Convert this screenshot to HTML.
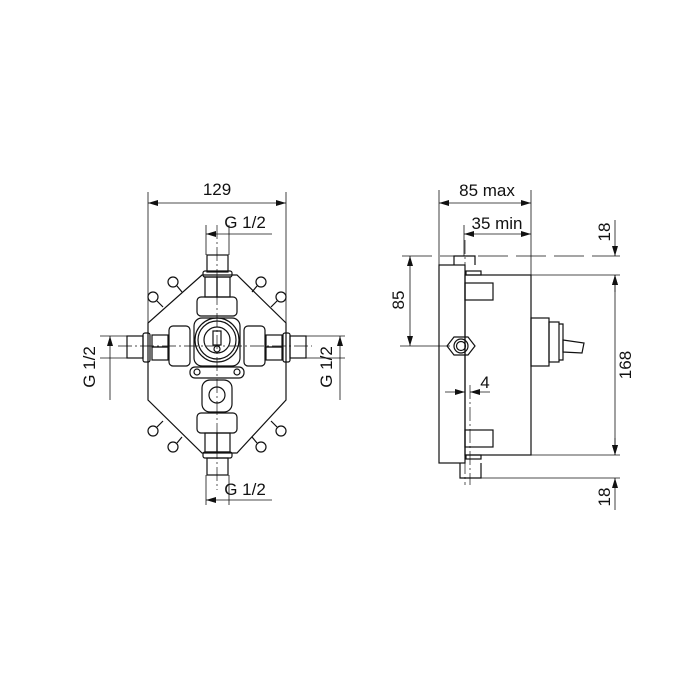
<!DOCTYPE html>
<html><head><meta charset="utf-8"><style>body{margin:0;background:#fff}svg{display:block}text{font-family:"Liberation Sans",sans-serif;font-size:17px;fill:#111}</style></head><body>
<svg width="700" height="700" viewBox="0 0 700 700" xmlns="http://www.w3.org/2000/svg">
<defs>
<marker id="a" viewBox="0 0 10 6" refX="10" refY="3" markerWidth="10" markerHeight="6" orient="auto-start-reverse" markerUnits="userSpaceOnUse"><path d="M0,0L10,3L0,6z" fill="#111"/></marker>
</defs>
<g stroke="#111" fill="none" stroke-width="1.2">
<!-- LEFT VIEW dims -->
<line x1="148" y1="192" x2="148" y2="323" stroke-width="0.8"/>
<line x1="286" y1="192" x2="286" y2="323" stroke-width="0.8"/>
<line x1="148" y1="203" x2="286" y2="203" marker-start="url(#a)" marker-end="url(#a)" stroke-width="0.8"/>
<line x1="206" y1="225" x2="206" y2="255" stroke-width="0.8"/>
<line x1="229" y1="225" x2="229" y2="255" stroke-width="0.8"/>
<line x1="206" y1="234" x2="272" y2="234" marker-start="url(#a)" stroke-width="0.8"/>
<line x1="206" y1="475" x2="206" y2="505" stroke-width="0.8"/>
<line x1="229" y1="475" x2="229" y2="505" stroke-width="0.8"/>
<line x1="206" y1="500" x2="272" y2="500" marker-start="url(#a)" stroke-width="0.8"/>
<line x1="100" y1="336" x2="130" y2="336" stroke-width="0.8"/>
<line x1="100" y1="358" x2="130" y2="358" stroke-width="0.8"/>
<line x1="110" y1="336" x2="110" y2="400" marker-start="url(#a)" stroke-width="0.8"/>
<line x1="305" y1="336" x2="345" y2="336" stroke-width="0.8"/>
<line x1="305" y1="358" x2="345" y2="358" stroke-width="0.8"/>
<line x1="340" y1="336" x2="340" y2="400" marker-start="url(#a)" stroke-width="0.8"/>
<!-- octagon -->
<polygon points="202,275 237,275 286,323 286,400 237,453 202,453 148,400 148,323"/>
<!-- ears -->
<g>
<circle cx="173" cy="282" r="5"/><circle cx="153" cy="297" r="5"/>
<circle cx="261" cy="282" r="5"/><circle cx="281" cy="297" r="5"/>
<circle cx="153" cy="431" r="5"/><circle cx="173" cy="447" r="5"/>
<circle cx="281" cy="431" r="5"/><circle cx="261" cy="447" r="5"/>
<line x1="177" y1="286" x2="182" y2="292"/><line x1="157" y1="301" x2="163" y2="307"/>
<line x1="257" y1="286" x2="252" y2="292"/><line x1="277" y1="301" x2="271" y2="307"/>
<line x1="157" y1="427" x2="163" y2="421"/><line x1="177" y1="443" x2="182" y2="437"/>
<line x1="277" y1="427" x2="271" y2="421"/><line x1="257" y1="443" x2="252" y2="437"/>
</g>
<!-- top pipe -->
<rect x="207" y="255" width="21" height="17"/>
<rect x="203" y="271" width="29" height="6" rx="2"/>
<rect x="205" y="277" width="12" height="20"/><rect x="217" y="277" width="13" height="20"/>
<rect x="197" y="297" width="40" height="19" rx="4"/>
<!-- bottom pipe -->
<rect x="207" y="458" width="21" height="17"/>
<rect x="203" y="452" width="29" height="6" rx="2"/>
<rect x="205" y="433" width="12" height="19"/><rect x="217" y="433" width="13" height="19"/>
<rect x="197" y="413" width="40" height="20" rx="4"/>
<!-- left pipe -->
<rect x="127" y="336" width="16" height="22"/>
<rect x="143" y="333" width="7" height="29" rx="2"/>
<rect x="152" y="335" width="16" height="12"/><rect x="152" y="347" width="16" height="13"/>
<rect x="169" y="326" width="21" height="40" rx="4"/>
<!-- right pipe -->
<rect x="290" y="336" width="16" height="22"/>
<rect x="283" y="333" width="7" height="29" rx="2"/>
<rect x="266" y="335" width="16" height="12"/><rect x="266" y="347" width="16" height="13"/>
<rect x="244" y="326" width="21" height="40" rx="4"/>
<!-- center -->
<rect x="194" y="318" width="46" height="48" rx="8"/>
<circle cx="217" cy="340" r="22"/><circle cx="217" cy="340" r="19"/><circle cx="217" cy="340" r="13"/>
<rect x="213" y="331" width="8" height="14"/><circle cx="217" cy="349" r="3"/>
<rect x="190" y="367" width="54" height="11" rx="5"/>
<circle cx="197" cy="372" r="3"/><circle cx="237" cy="372" r="3"/>
<rect x="202" y="380" width="30" height="32" rx="8"/>
<circle cx="217" cy="395" r="8"/>
<!-- centerlines -->
<line x1="217" y1="225" x2="217" y2="490" stroke-width="0.7" stroke-dasharray="14,3,2,3"/>
<line x1="118" y1="346" x2="312" y2="346" stroke-width="0.7" stroke-dasharray="14,3,2,3"/>

<!-- RIGHT VIEW -->
<line x1="439" y1="190" x2="439" y2="265" stroke-width="0.8"/>
<line x1="531" y1="190" x2="531" y2="275" stroke-width="0.8"/>
<line x1="439" y1="203" x2="531" y2="203" marker-start="url(#a)" marker-end="url(#a)" stroke-width="0.8"/>
<line x1="464" y1="234" x2="531" y2="234" marker-start="url(#a)" marker-end="url(#a)" stroke-width="0.8"/>
<line x1="464" y1="225" x2="464" y2="256" stroke-width="0.8"/>
<line x1="402" y1="256" x2="620" y2="256" stroke-width="0.8" stroke-dasharray="30,8"/>
<line x1="531" y1="275" x2="620" y2="275" stroke-width="0.8"/>
<line x1="531" y1="455" x2="620" y2="455" stroke-width="0.8"/>
<line x1="480" y1="478" x2="620" y2="478" stroke-width="0.8"/>
<line x1="400" y1="346" x2="450" y2="346" stroke-width="0.8"/>
<line x1="410" y1="256" x2="410" y2="346" marker-start="url(#a)" marker-end="url(#a)" stroke-width="0.8"/>
<line x1="615" y1="275" x2="615" y2="455" marker-start="url(#a)" marker-end="url(#a)" stroke-width="0.8"/>
<line x1="615" y1="220" x2="615" y2="256" marker-end="url(#a)" stroke-width="0.8"/>
<line x1="615" y1="292" x2="615" y2="275" marker-end="url(#a)" stroke-width="0.8"/>
<line x1="615" y1="510" x2="615" y2="478" marker-end="url(#a)" stroke-width="0.8"/>
<line x1="615" y1="438" x2="615" y2="455" marker-end="url(#a)" stroke-width="0.8"/>
<rect x="439" y="265" width="26" height="198"/>
<rect x="465" y="275" width="66" height="180"/>
<path d="M454,265V256H475V265"/>
<rect x="466" y="271" width="15" height="4"/>
<rect x="465" y="283" width="28" height="17"/>
<rect x="465" y="430" width="28" height="17"/>
<rect x="466" y="455" width="15" height="4"/>
<path d="M460,463V478H481V463"/>
<polygon points="454,337 468,337 475,346 468,355 454,355 447,346"/>
<circle cx="461" cy="346" r="7"/><circle cx="461" cy="346" r="4.5"/>
<rect x="531" y="318" width="18" height="48"/>
<rect x="549" y="322" width="10" height="40"/>
<path d="M559,324h4v36h-4"/>
<polygon points="563,340 584,343 582,353 563,352"/>
<line x1="465" y1="385" x2="465" y2="395" stroke-width="0.8"/>
<line x1="445" y1="392" x2="465" y2="392" marker-end="url(#a)" stroke-width="0.8"/>
<line x1="490" y1="392" x2="470" y2="392" marker-end="url(#a)" stroke-width="0.8"/>
<line x1="465" y1="240" x2="465" y2="485" stroke-width="0.7" stroke-dasharray="14,3,2,3"/>
<line x1="470" y1="385" x2="470" y2="485" stroke-width="0.7" stroke-dasharray="14,3,2,3"/>
</g>
<text x="217" y="195" text-anchor="middle">129</text>
<text x="245" y="228" text-anchor="middle">G 1/2</text>
<text x="245" y="495" text-anchor="middle">G 1/2</text>
<text transform="translate(95,367) rotate(-90)" text-anchor="middle">G 1/2</text>
<text transform="translate(332,367) rotate(-90)" text-anchor="middle">G 1/2</text>
<text x="487" y="196" text-anchor="middle">85 max</text>
<text x="497" y="229" text-anchor="middle">35 min</text>
<text transform="translate(404,300) rotate(-90)" text-anchor="middle">85</text>
<text transform="translate(631,365) rotate(-90)" text-anchor="middle">168</text>
<text transform="translate(610,232) rotate(-90)" text-anchor="middle">18</text>
<text transform="translate(610,497) rotate(-90)" text-anchor="middle">18</text>
<text x="485" y="388" text-anchor="middle">4</text>
</svg>
</body></html>
